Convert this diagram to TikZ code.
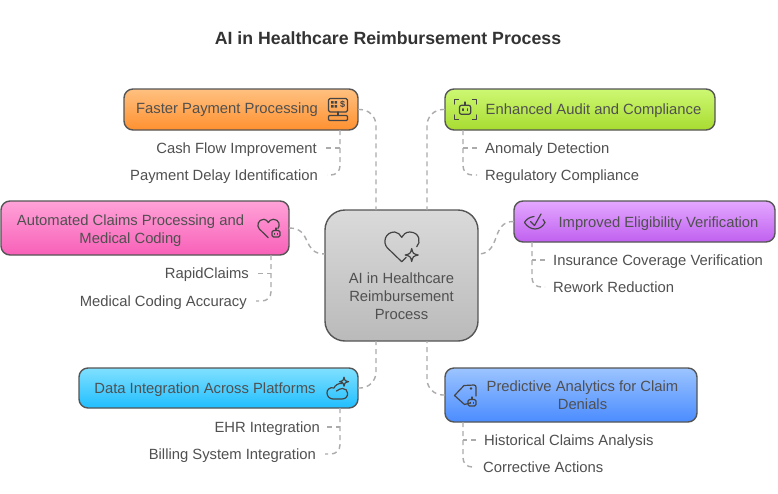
\documentclass[tikz,border=0pt]{standalone}
\usepackage{fontspec}
\setmainfont{Liberation Sans}
\usetikzlibrary{calc}
\definecolor{txt}{HTML}{505050}
\definecolor{ico}{HTML}{444444}
\definecolor{edge}{HTML}{555555}
\definecolor{lnk}{HTML}{ABABAB}
\tikzset{
  x=1pt,y=-1pt,
  card/.style={draw=edge,line width=1.4pt,rounded corners=9pt,inner sep=0pt,outer sep=0pt,anchor=north west},
  orangecard/.style={card,top color={rgb,255:red,255;green,192;blue,128},bottom color={rgb,255:red,255;green,145;blue,48}},
  greencard/.style={card,top color={rgb,255:red,205;green,248;blue,115},bottom color={rgb,255:red,168;green,220;blue,48}},
  pinkcard/.style={card,top color={rgb,255:red,255;green,162;blue,216},bottom color={rgb,255:red,248;green,96;blue,184}},
  purplecard/.style={card,top color={rgb,255:red,228;green,168;blue,255},bottom color={rgb,255:red,192;green,96;blue,240}},
  cyancard/.style={card,top color={rgb,255:red,128;green,224;blue,255},bottom color={rgb,255:red,32;green,190;blue,255}},
  bluecard/.style={card,top color={rgb,255:red,156;green,196;blue,255},bottom color={rgb,255:red,74;green,140;blue,255}},
  graycard/.style={card,rounded corners=20pt,top color={rgb,255:red,218;green,218;blue,218},bottom color={rgb,255:red,186;green,186;blue,186}},
  cardtext/.style={text=txt,inner sep=0pt,align=center,font=\fontsize{14.8}{18}\selectfont},
  lefttext/.style={text=txt,inner ysep=0pt,inner xsep=9pt,anchor=east,text height=10.5pt,text depth=0pt,font=\fontsize{14.8}{18}\selectfont},
  righttext/.style={text=txt,inner ysep=0pt,inner xsep=8pt,anchor=west,text height=10.5pt,text depth=0pt,font=\fontsize{14.8}{18}\selectfont},
  link/.style={draw=lnk,line width=1.4pt,dash pattern=on 5pt off 4pt},
  glyph/.style={draw=ico,line width=1.2pt,line cap=round,line join=round},
}
\newcommand{\hrtshape}{(4.5,-4.5) -- (0,0) -- (-14.5,-14) .. controls (-19,-19) and (-17,-29.7) .. (-7,-29.7) .. controls (-4,-29.7) and (-1.5,-27) .. (0,-24.4) .. controls (1.5,-27) and (4,-29.7) .. (8,-29.7) .. controls (18,-29.7) and (19.5,-19) .. (15,-15)}
\newcommand{\sparkat}[3]{\draw[glyph] ($(#1,#2)+(0,-#3)$) .. controls ($(#1,#2)+(.2*#3,-.2*#3)$) .. ($(#1,#2)+(#3,0)$) .. controls ($(#1,#2)+(.2*#3,.2*#3)$) .. ($(#1,#2)+(0,#3)$) .. controls ($(#1,#2)+(-.2*#3,.2*#3)$) .. ($(#1,#2)+(-#3,0)$) .. controls ($(#1,#2)+(-.2*#3,-.2*#3)$) .. cycle;}
\newcommand{\botat}[2]{%
  \draw[glyph,rounded corners=1.5pt] (#1-4,#2-3) rectangle (#1+4,#2+3.5);
  \draw[glyph] (#1,#2-3) -- (#1,#2-5.5);
  \draw[glyph] (#1-1.6,#2) -- (#1-1.6,#2+.8) (#1+1.6,#2) -- (#1+1.6,#2+.8);}
\begin{document}
\begin{tikzpicture}
\useasboundingbox (0,0) rectangle (778,493);
\fill[white] (0,0) rectangle (778,493);
\node[text={rgb,255:red,51;green,51;blue,51},font=\fontsize{17.7}{20}\selectfont\bfseries] (title) at (388,38) {AI in Healthcare Reimbursement Process};
\node[graycard,minimum width=153pt,minimum height=131pt] (hub) at (325,210) {};
\node[orangecard,minimum width=234pt,minimum height=41pt] (fast) at (124,89) {};
\node[greencard,minimum width=270pt,minimum height=41pt] (audit) at (445,89) {};
\node[pinkcard,minimum width=288pt,minimum height=54pt] (auto) at (1,201) {};
\node[purplecard,minimum width=261pt,minimum height=41pt] (elig) at (514,201) {};
\node[cyancard,minimum width=279pt,minimum height=40pt] (data) at (79,368) {};
\node[bluecard,minimum width=252pt,minimum height=54pt] (pred) at (445,368) {};
% card texts
\node[cardtext] (tfast) at (227,110) {Faster Payment Processing};
\node[cardtext] (taudit) at (593.5,111) {Enhanced Audit and Compliance};
\node[cardtext] (tauto) at (130.5,231) {Automated Claims Processing and\\Medical Coding};
\node[cardtext] (telig) at (658.5,224) {Improved Eligibility Verification};
\node[cardtext] (tdata) at (205,390) {Data Integration Across Platforms};
\node[cardtext] (tpred) at (582.5,395) {Predictive Analytics for Claim\\Denials};
\node[cardtext] (thub) at (401.5,296) {AI in Healthcare\\Reimbursement\\Process};
% child labels
\node[lefttext] (cash) at (326,148) {Cash Flow Improvement};
\node[lefttext] (delay) at (327,175) {Payment Delay Identification};
\node[righttext] (anom) at (477,148) {Anomaly Detection};
\node[righttext] (regu) at (477,175) {Regulatory Compliance};
\node[lefttext] (rapid) at (258,273.5) {RapidClaims};
\node[lefttext] (mcod) at (256,301) {Medical Coding Accuracy};
\node[righttext] (insu) at (545,260) {Insurance Coverage Verification};
\node[righttext] (rewo) at (545,287) {Rework Reduction};
\node[lefttext,inner xsep=7pt] (ehr) at (327,427) {EHR Integration};
\node[lefttext] (bill) at (325,454) {Billing System Integration};
\node[righttext] (hist) at (476,440) {Historical Claims Analysis};
\node[righttext] (corr) at (475,467) {Corrective Actions};
% hub connectors
\draw[link,rounded corners=16pt] (fast.east) -| ([xshift=-25.5pt]hub.north);
\draw[link,rounded corners=16pt] (audit.west) -| ([xshift=25.5pt]hub.north);
\draw[link,rounded corners=16pt] (data.east) -| ([xshift=-25.5pt]hub.south);
\draw[link,rounded corners=16pt] (pred.west) -| ([xshift=25.5pt]hub.south);
\draw[link] (auto.east) .. controls (313,228) and (301,254) .. ([yshift=21.5pt]hub.west);
\draw[link] (elig.west) .. controls (490,221) and (502,254) .. ([yshift=21.5pt]hub.east);
% child connectors
\draw[link,rounded corners=9pt] ([xshift=-18pt]fast.south east) |- (delay.east);
\draw[link] (cash.east) -- ([xshift=-18pt]fast.south east |- cash.east);
\draw[link,rounded corners=9pt] ([xshift=18pt]audit.south west) |- (regu.west);
\draw[link] (anom.west) -- ([xshift=18pt]audit.south west |- anom.west);
\draw[link,rounded corners=9pt] ([xshift=-18pt]auto.south east) |- (mcod.east);
\draw[link] (rapid.east) -- ([xshift=-18pt]auto.south east |- rapid.east);
\draw[link,rounded corners=9pt] ([xshift=18pt]elig.south west) |- (rewo.west);
\draw[link] (insu.west) -- ([xshift=18pt]elig.south west |- insu.west);
\draw[link,rounded corners=9pt] ([xshift=-18pt]data.south east) |- (bill.east);
\draw[link] (ehr.east) -- ([xshift=-18pt]data.south east |- ehr.east);
\draw[link,rounded corners=9pt] ([xshift=18pt]pred.south west) |- (corr.west);
\draw[link] (hist.west) -- ([xshift=18pt]pred.south west |- hist.west);
% icon: hub
\draw[glyph] [shift={(401.7,261.7)}] \hrtshape;
\sparkat{411.7}{255}{6.5}
% icon: point of sale
\draw[glyph,rounded corners=1.5pt] (328.5,98.5) rectangle (347.5,112);
\draw[glyph,rounded corners=1pt] (328.5,115.5) rectangle (347.5,120.5);
\draw[glyph] (338,112) -- (338,115.5);
\fill[ico] (331,101) rectangle (333.6,103.6) (334.6,101) rectangle (337.2,103.6) (331,105) rectangle (333.6,107.6) (334.6,105) rectangle (337.2,107.6);
\node[text=ico,inner sep=0pt,font=\fontsize{9}{9}\selectfont\bfseries] (dollar) at (342.5,104.5) {\$};
% icon: audit robot
\draw[glyph] (454.5,104) -- (454.5,99.5) -- (458.5,99.5) (472.5,99.5) -- (476.5,99.5) -- (476.5,104) (454.5,115) -- (454.5,119.5) -- (458.5,119.5) (472.5,119.5) -- (476.5,119.5) -- (476.5,115);
\draw[glyph,rounded corners=2pt] (459.5,105.3) rectangle (470.7,114.3);
\draw[glyph] (465,105.3) -- (465,102);
\draw[glyph] (463,108.8) -- (463,110.5) (467.2,108.8) -- (467.2,110.5);
% icon: pink heart with bot
\draw[glyph] [shift={(268.3,237.7)},scale=.62] (0,0) -- (-14.5,-14) .. controls (-19,-19) and (-17,-29.7) .. (-7,-29.7) .. controls (-4,-29.7) and (-1.5,-27) .. (0,-24.4) .. controls (1.5,-27) and (4,-29.7) .. (8,-29.7) .. controls (18,-29.7) and (19.5,-19) .. (15.5,-15);
\botat{276}{233.5}
% icon: eye check
\draw[glyph] (534,216.5) .. controls (529.5,217) and (526,219.5) .. (524.5,222.5) .. controls (527,226.5) and (531,229) .. (535,229) .. controls (539,229) and (543,226.5) .. (545,222.5) .. controls (544.5,221.5) and (544,220.5) .. (543,219.5);
\draw[glyph] (530.5,221.5) -- (534.5,225.5) -- (541,214);
% icon: cloud
\draw[glyph] (342,383.5) .. controls (338,383) and (335,385.5) .. (334,388) .. controls (330,386.5) and (326.5,390) .. (327,393) .. controls (327,396.5) and (330,399) .. (333,399) -- (342,399) .. controls (346,399) and (348,396) .. (347.5,393) .. controls (347.5,390.5) and (345.5,388.5) .. (342.5,388.5) .. controls (341,388.5) and (338,389.5) .. (336.5,391);
\sparkat{344}{381.7}{4.5}
% icon: tag
\draw[glyph] (470,403) -- (464.5,404.5) -- (454.5,395.5) -- (464,385.5) -- (474,385) .. controls (475.5,385) and (476,386) .. (476,387.5) -- (476,396);
\fill[ico] (471,388.5) circle (1.4pt);
\botat{472}{402.5}
\end{tikzpicture}
\end{document}
